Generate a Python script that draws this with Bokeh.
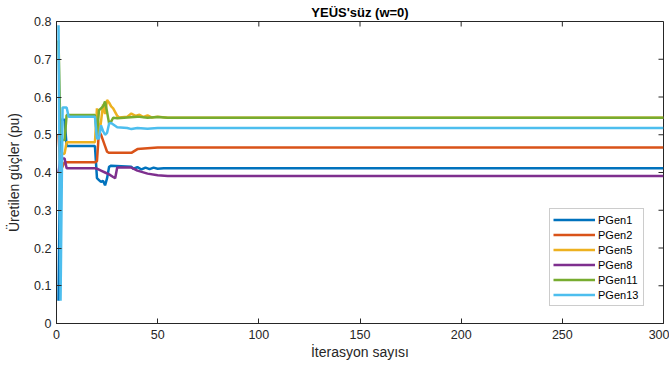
import math
from bokeh.plotting import figure
from bokeh.models import Legend, LegendItem, FixedTicker, Range1d
from bokeh.embed import file_html
from bokeh.resources import INLINE

# ---- data (iteration breakpoints and values) ----
pgen1_x = [1, 2, 4, 5, 19, 20, 21, 22, 23, 24, 25, 26, 27, 37, 38, 40, 42, 44, 46, 48, 50, 53, 300]
pgen1_y = [0.06, 0.54, 0.54, 0.47, 0.47, 0.385, 0.38, 0.375, 0.378, 0.366, 0.385, 0.415, 0.418, 0.415,
           0.41, 0.414, 0.408, 0.413, 0.409, 0.413, 0.41, 0.411, 0.411]

pgen2_x = [1, 2, 4, 19, 20, 21, 22, 23, 24, 25, 26, 37, 40, 45, 50, 300]
pgen2_y = [0.50, 0.405, 0.427, 0.427, 0.43, 0.51, 0.50, 0.485, 0.47, 0.455, 0.452, 0.452, 0.462, 0.464,
           0.466, 0.466]

pgen5_x = [1, 2, 4, 5, 19, 20, 21, 22, 23, 24, 25, 26, 27, 28, 30, 31, 35, 37, 39, 41, 43, 45, 47, 50, 55, 300]
pgen5_y = [0.45, 0.45, 0.45, 0.48, 0.48, 0.57, 0.50, 0.535, 0.58, 0.555, 0.592, 0.585, 0.575, 0.57, 0.55,
           0.546, 0.548, 0.556, 0.55, 0.553, 0.547, 0.551, 0.546, 0.548, 0.545, 0.545]

pgen8_x = [1, 2, 4, 5, 19, 20, 22, 24, 26, 28, 29, 30, 37, 40, 45, 50, 55, 300]
pgen8_y = [0.40, 0.437, 0.437, 0.411, 0.411, 0.41, 0.405, 0.40, 0.395, 0.388, 0.385, 0.413, 0.413, 0.405,
           0.397, 0.393, 0.391, 0.391]

pgen11_x = [1, 2, 4, 5, 19, 20, 21, 22, 23, 24, 25, 26, 27, 28, 30, 35, 40, 45, 50, 55, 300]
pgen11_y = [0.75, 0.486, 0.486, 0.552, 0.552, 0.50, 0.565, 0.57, 0.575, 0.588, 0.56, 0.53, 0.535, 0.545,
            0.544, 0.546, 0.548, 0.545, 0.547, 0.545, 0.545]

pgen13_x = [1, 2, 3, 5, 6, 19, 20, 21, 22, 23, 24, 25, 26, 27, 30, 35, 37, 40, 45, 50, 55, 300]
pgen13_y = [0.79, 0.06, 0.572, 0.572, 0.548, 0.548, 0.49, 0.49, 0.525, 0.51, 0.50, 0.505, 0.53, 0.531,
            0.52, 0.518, 0.515, 0.518, 0.516, 0.518, 0.518, 0.518]

series_names = ["PGen1", "PGen2", "PGen5", "PGen8", "PGen11", "PGen13"]
series_x = [pgen1_x, pgen2_x, pgen5_x, pgen8_x, pgen11_x, pgen13_x]
series_y = [pgen1_y, pgen2_y, pgen5_y, pgen8_y, pgen11_y, pgen13_y]
colors = ["#0072BD", "#D95319", "#EDB120", "#7E2F8E", "#77AC30", "#4DBEEE"]

x_ticks = [0, 50, 100, 150, 200, 250, 300]
y_ticks = [0, 0.1, 0.2, 0.3, 0.4, 0.5, 0.6, 0.7, 0.8]
y_tick_labels = ["0", "0.1", "0.2", "0.3", "0.4", "0.5", "0.6", "0.7", "0.8"]

FONT = "Liberation Sans"
AX = "#262626"
X_MIN, X_MAX = 0, 300
Y_MIN, Y_MAX = 0, 0.8

p = figure(width=669, height=367, output_backend="svg", toolbar_location=None,
           x_range=Range1d(X_MIN, X_MAX), y_range=Range1d(Y_MIN, Y_MAX),
           title="YEÜS'süz (w=0)",
           min_border_left=56, min_border_right=6, min_border_top=21, min_border_bottom=44)
p.background_fill_color = "white"
p.border_fill_color = "white"
p.outline_line_color = AX
p.outline_line_width = 1
p.xgrid.visible = False
p.ygrid.visible = False

p.title.align = "center"
p.title.text_font = FONT
p.title.text_font_size = "13px"
p.title.text_font_style = "bold"
p.title.text_color = "#000000"
p.title.standoff = 3
p.title.offset = 0

def style_axis(ax):
    ax.major_tick_in = 5
    ax.major_tick_out = 0
    ax.minor_tick_line_color = None
    ax.axis_line_color = AX
    ax.major_tick_line_color = AX
    ax.major_label_text_font = FONT
    ax.major_label_text_color = AX
    ax.major_label_text_font_size = "12.5px"
    ax.axis_label_text_font = FONT
    ax.axis_label_text_font_size = "14px"
    ax.axis_label_text_font_style = "normal"
    ax.axis_label_text_color = AX

xa = p.xaxis[0]
xa.ticker = FixedTicker(ticks=x_ticks)
style_axis(xa)
xa.major_label_standoff = 6
xa.axis_label = "İterasyon sayısı"
xa.axis_label_standoff = 2

ya = p.yaxis[0]
ya.ticker = FixedTicker(ticks=y_ticks)
style_axis(ya)
ya.major_label_standoff = 5
ya.major_label_overrides = dict(zip(y_ticks, y_tick_labels))
ya.axis_label = "Üretilen güçler (pu)"
ya.axis_label_standoff = 9

# inward ticks on the top and right edges of the box (MATLAB style)
p.ray(x=x_ticks, y=[Y_MAX] * len(x_ticks), length=5, length_units="screen",
      angle=-math.pi / 2, line_color=AX, line_width=1)
p.ray(x=[X_MAX] * len(y_ticks), y=y_ticks, length=5, length_units="screen",
      angle=math.pi, line_color=AX, line_width=1)

items = []
for name, xs, ys, c in zip(series_names, series_x, series_y, colors):
    r = p.line(xs, ys, line_color=c, line_width=2.5)
    items.append(LegendItem(label=name, renderers=[r]))

legend = Legend(items=items, location=(493, 17))
legend.label_text_font = FONT
legend.label_text_font_size = "11px"
legend.label_text_color = "#000000"
legend.glyph_width = 42
legend.glyph_height = 15
legend.label_height = 15
legend.label_width = 42
legend.label_standoff = 3
legend.spacing = 0
legend.padding = 3
legend.margin = 0
legend.border_line_color = "#999999"
legend.border_line_width = 1
legend.background_fill_color = "white"
legend.background_fill_alpha = 1
p.add_layout(legend, "center")

open("out.html", "w").write(file_html(p, INLINE))
